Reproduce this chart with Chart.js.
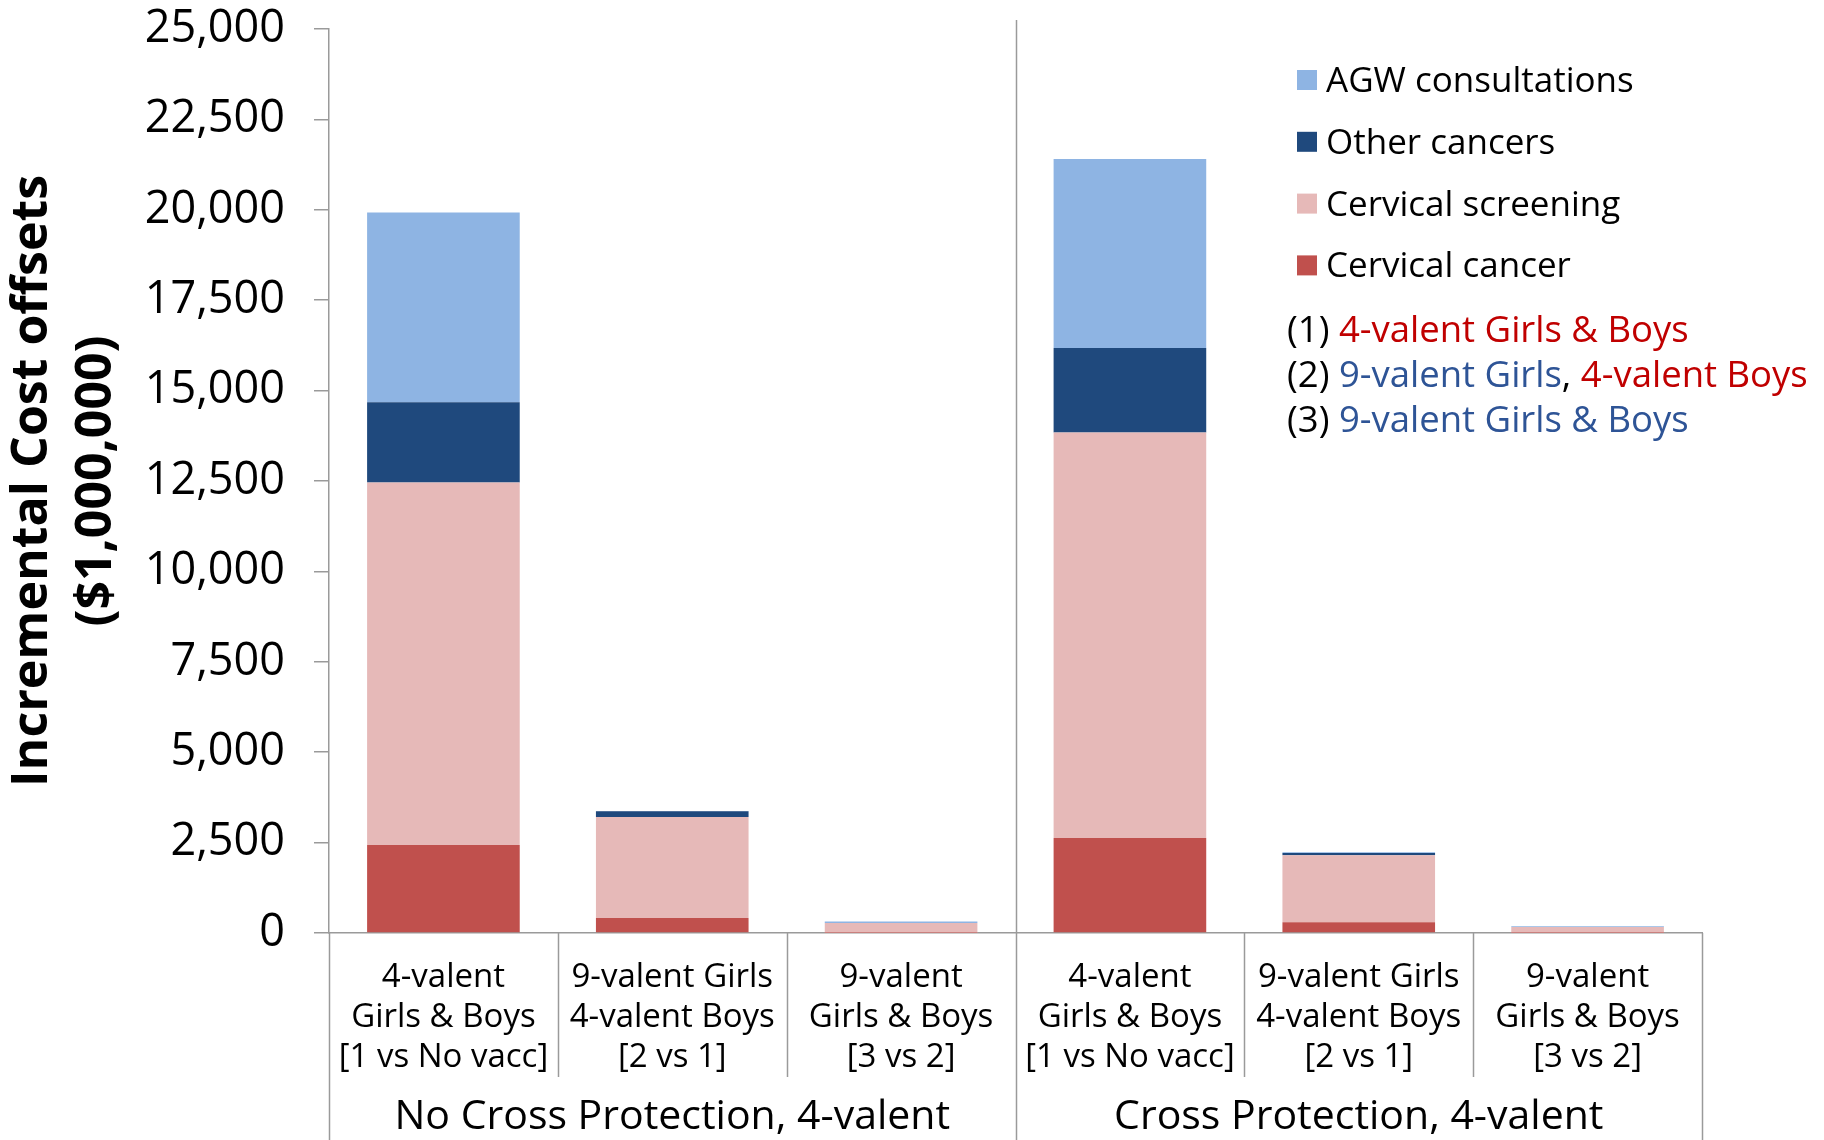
<!DOCTYPE html>
<html>
<head>
<meta charset="utf-8">
<script src="https://cdn.jsdelivr.net/npm/chart.js@4"></script>
<style>
  html, body { margin: 0; padding: 0; background: #ffffff; }
  canvas { display: block; }
</style>
</head>
<body>
<canvas id="c" width="1824" height="1140"></canvas>
<script>
// ---- data ----
const categories = [
  ['4-valent', 'Girls & Boys', '[1 vs No vacc]'],
  ['9-valent Girls', '4-valent Boys', '[2 vs 1]'],
  ['9-valent', 'Girls & Boys', '[3 vs 2]'],
  ['4-valent', 'Girls & Boys', '[1 vs No vacc]'],
  ['9-valent Girls', '4-valent Boys', '[2 vs 1]'],
  ['9-valent', 'Girls & Boys', '[3 vs 2]']
];
const groupLabels = ['No Cross Protection, 4-valent', 'Cross Protection, 4-valent'];
const seriesNames = ['Cervical cancer', 'Cervical screening', 'Other cancers', 'AGW consultations'];
const cervicalCancer    = [2434, 415, 5, 2627, 296, 5];
const cervicalScreening = [10022, 2793, 270, 11212, 1853, 160];
const otherCancers      = [2221, 158, 3, 2339, 63, 3];
const agwConsultations  = [5246, 10, 40, 5227, 20, 20];
const yTicksMax = 25000;
const yTicksStep = 2500;
const yTitle = ['Incremental Cost offsets', '($1,000,000)'];
const RED = '#C00000', BLUE = '#2E5496', BLACK = '#000000';
const noteLines = [
  [['(1) ', BLACK], ['4-valent Girls & Boys', RED]],
  [['(2) ', BLACK], ['9-valent Girls', BLUE], [', ', BLACK], ['4-valent Boys', RED]],
  [['(3) ', BLACK], ['9-valent Girls & Boys', BLUE]]
];

const colors = ['#C0504D', '#E6B9B8', '#1F497D', '#8EB4E3'];
const FONT = "'Open Sans', 'DejaVu Sans', sans-serif";
const AXIS = '#9A9A9A';

const seriesValues = [cervicalCancer, cervicalScreening, otherCancers, agwConsultations];

const decoPlugin = {
  id: 'deco',
  afterDraw(chart) {
    const ctx = chart.ctx;
    const xs = chart.scales.x;
    const area = chart.chartArea;
    const n = categories.length;
    const slot = (xs.right - xs.left) / n;
    const H = chart.height;
    ctx.save();
    ctx.strokeStyle = AXIS;
    ctx.lineWidth = 1.5;
    for (let i = 0; i <= n; i++) {
      const x = Math.round(xs.left + slot * i) + 0.5;
      let y0 = area.bottom, y1;
      if (i % 3 === 0) {
        y1 = H;
        if (i === 3) y0 = area.top - 9;
      } else {
        y1 = area.bottom + 144;
      }
      ctx.beginPath();
      ctx.moveTo(x, y0);
      ctx.lineTo(x, y1);
      ctx.stroke();
    }
    // group labels
    ctx.fillStyle = BLACK;
    ctx.font = "41px " + FONT;
    ctx.textAlign = 'center';
    ctx.textBaseline = 'alphabetic';
    groupLabels.forEach((g, k) => {
      const cx = (xs.getPixelForValue(k * 3) + xs.getPixelForValue(k * 3 + 2)) / 2;
      ctx.fillText(g, cx, 1129);
    });
    // legend (top of stack first)
    ctx.font = "35px " + FONT;
    ctx.textAlign = 'left';
    const ds = chart.data.datasets.slice().reverse();
    ds.forEach((d, k) => {
      const cy = 80 + k * 61.8;
      ctx.fillStyle = d.backgroundColor;
      ctx.fillRect(1297, cy - 10, 20, 20);
      ctx.fillStyle = BLACK;
      ctx.fillText(d.label, 1326, cy + 12);
    });
    // notes
    ctx.font = "36.5px " + FONT;
    noteLines.forEach((line, k) => {
      let x = 1287;
      const y = 341.7 + k * 45;
      line.forEach(([t, c]) => {
        ctx.fillStyle = c;
        ctx.fillText(t, x, y);
        x += ctx.measureText(t).width;
      });
    });
    ctx.restore();
  }
};

new Chart(document.getElementById('c'), {
  type: 'bar',
  data: {
    labels: categories,
    datasets: seriesValues.map((vals, i) => ({
      label: seriesNames[i],
      data: vals,
      backgroundColor: colors[i],
      borderWidth: 0,
      barPercentage: 0.667,
      categoryPercentage: 1.0
    }))
  },
  options: {
    responsive: false,
    animation: false,
    layout: { padding: { top: 29, right: 122, left: 0, bottom: 0 } },
    plugins: { legend: { display: false }, tooltip: { enabled: false } },
    scales: {
      x: {
        stacked: true,
        grid: { display: false, drawTicks: false },
        border: { display: true, color: AXIS, width: 1.5 },
        ticks: {
          color: BLACK,
          font: { family: FONT, size: 33, lineHeight: 1.212 },
          padding: 25,
          maxRotation: 0,
          autoSkip: false
        },
        afterFit(scale) { scale.height = 207; }
      },
      y: {
        stacked: true,
        min: 0,
        max: yTicksMax,
        grid: { drawOnChartArea: false, drawTicks: true, tickLength: 15, color: AXIS, lineWidth: 1.5 },
        border: { display: true, color: AXIS, width: 1.5 },
        ticks: {
          stepSize: yTicksStep,
          color: BLACK,
          font: { family: FONT, size: 45 },
          padding: 29,
          callback: v => v.toLocaleString('en-US')
        },
        title: {
          display: true,
          text: yTitle,
          color: BLACK,
          font: { family: FONT, size: 50, weight: 'bold', lineHeight: 1.28 },
          padding: { top: 1, bottom: 0 }
        },
        afterFit(scale) {
          scale.width = 329;
          scale.paddingTop = 0;
          scale.paddingBottom = 0;
        }
      }
    }
  },
  plugins: [decoPlugin]
});
</script>
</body>
</html>
